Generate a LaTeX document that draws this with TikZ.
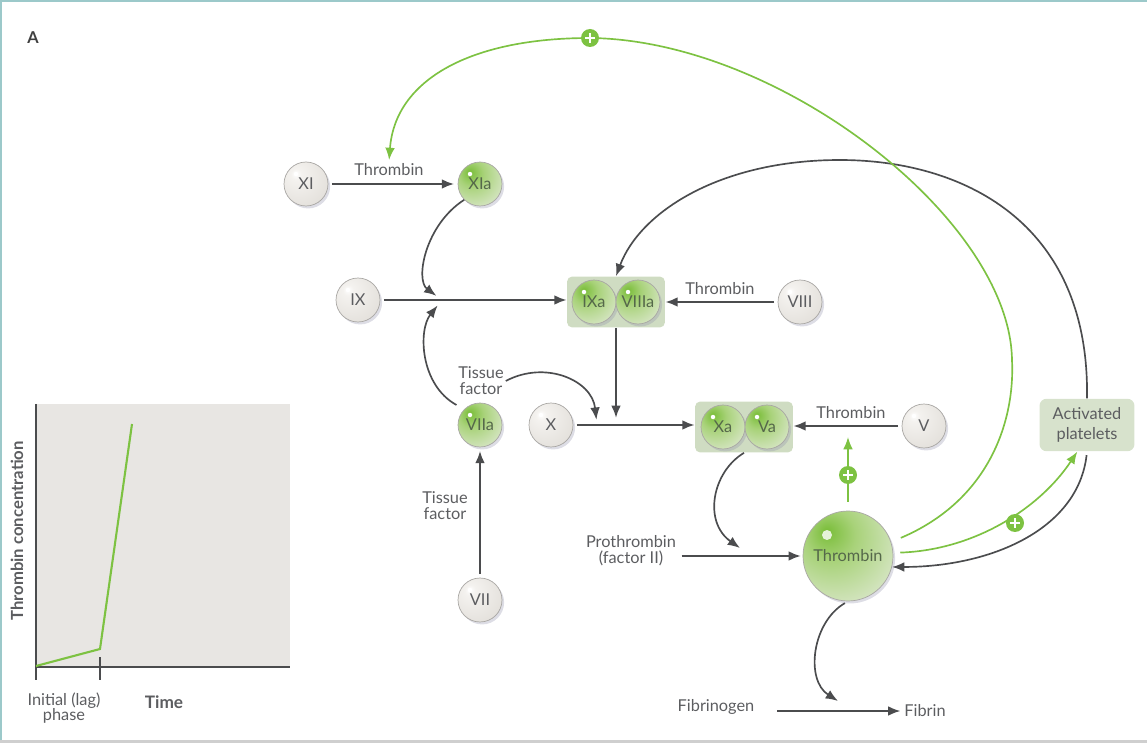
\documentclass[tikz,border=0pt]{standalone}
\usepackage{fontspec}
\setmainfont{Lato}
\usetikzlibrary{positioning,arrows.meta,shadows}

\definecolor{txtgrey}{HTML}{5C5D60}
\definecolor{txtgreen}{HTML}{55684A}
\definecolor{linegrey}{HTML}{4B4C4E}
\definecolor{lgreen}{HTML}{7DC242}
\definecolor{ringgrey}{HTML}{A9A7A4}
\definecolor{shadowc}{HTML}{8E8FA8}
\definecolor{cplxfill}{HTML}{CFDCC2}
\definecolor{pltfill}{HTML}{D7E2CC}
\definecolor{graphfill}{HTML}{E8E6E3}
\definecolor{frameteal}{HTML}{9CC9CA}
\definecolor{framegrey}{HTML}{CFCFCF}
\definecolor{fgA}{HTML}{F4F2EF}
\definecolor{fgB}{HTML}{E4E1DC}
\definecolor{fgC}{HTML}{D2CEC8}
\definecolor{gnA}{HTML}{79BD38}
\definecolor{gnB}{HTML}{A8D279}
\definecolor{gnC}{HTML}{D5E5C2}
\definecolor{gnD}{HTML}{E3E6DB}

\pgfdeclareradialshading{factorgrey}{\pgfpoint{-12bp}{12bp}}{color(0bp)=(white); color(6bp)=(fgA); color(34bp)=(fgB); color(62bp)=(fgC); color(80bp)=(fgC)}
\pgfdeclareradialshading{factorgreen}{\pgfpoint{-12bp}{14bp}}{color(0bp)=(gnA); color(14bp)=(gnB); color(36bp)=(gnC); color(62bp)=(gnD); color(80bp)=(gnD)}

\begin{document}
\begin{tikzpicture}[x=0.02cm, y=-0.02cm,
    every node/.style={font=\fontsize{9.3}{11}\selectfont, text=txtgrey},
    factor/.style={circle, draw=ringgrey, line width=0.4pt, minimum size=0.88cm, inner sep=0pt,
      shading=factorgrey,
      drop shadow={shadow xshift=1.2pt, shadow yshift=-1.4pt, fill=shadowc, opacity=0.3},
      path picture={\fill[white] ([shift={(-0.2cm,0.2cm)}]path picture bounding box.center) circle (0.045cm);}},
    active/.style={factor, shading=factorgreen, text=txtgreen},
    bigthr/.style={active, minimum size=1.8cm,
      path picture={\fill[white, opacity=0.8] ([shift={(-0.42cm,0.42cm)}]path picture bounding box.center) circle (0.1cm);}},
    cplx/.style={rectangle, rounded corners=3pt, fill=cplxfill, minimum width=1.96cm, minimum height=1.02cm},
    pltbox/.style={rectangle, rounded corners=4pt, fill=pltfill, minimum width=1.9cm, minimum height=1.05cm, align=center},
    lbl/.style={align=center, inner sep=1pt},
    plus/.style={circle, fill=lgreen, minimum size=0.36cm, inner sep=0pt,
      path picture={\draw[white, line width=1.4pt] ([xshift=-0.1cm]path picture bounding box.center) -- ([xshift=0.1cm]path picture bounding box.center)
        ([yshift=-0.1cm]path picture bounding box.center) -- ([yshift=0.1cm]path picture bounding box.center);}},
    arr/.style={draw=linegrey, line width=1.15pt, -{Latex[length=7pt,width=5.5pt]}},
    arrc/.style={draw=linegrey, line width=0.95pt, -{Latex[length=7pt,width=5.5pt]}},
    garr/.style={draw=lgreen, line width=0.95pt, -{Latex[length=7pt,width=5.5pt]}}]

\useasboundingbox (0,0) rectangle (1147,743);
% frame
\draw[frameteal, line width=1.2pt] (1,743) -- (1,1) -- (1147,1);
\draw[framegrey, line width=1.2pt] (0,741.5) -- (1147,741.5);
\node[font=\fontsize{9.3}{11}\selectfont\bfseries, text=black!75] (panel) at (33,38) {A};

% thrombin graph
\fill[graphfill] (35,404) rectangle (290,668);
\draw[linegrey, line width=1.2pt] (36,404) -- (36,667) -- (290,667);
\draw[linegrey, line width=1.2pt] (36,657) -- (36,680) (100,657) -- (100,680);
\draw[lgreen, line width=1.2pt] (36,666) -- (100,649) -- (132,424);
\node[rotate=90, font=\fontsize{9.5}{11}\selectfont\bfseries] (ylab) at (17,531) {Thrombin concentration};
\node[lbl] (lagph) at (64,708) {Initial (lag)\\[-2pt]phase};
\node[font=\fontsize{9.8}{11}\selectfont\bfseries] (timelab) at (164,702) {Time};

% complexes
\node[cplx] (cplxA) at (616,302) {};
\node[cplx] (cplxB) at (744,427) {};

% factors
\node[factor] (xi) at (306,184) {XI};
\node[active] (xia) at (480,184) {XIa};
\node[factor] (ix) at (358,300) {IX};
\node[active] (ixa) at (594,302) {IXa};
\node[active] (viiia) at (638,302) {VIIIa};
\node[factor] (viii) at (800,302) {VIII};
\node[active] (viia) at (480,425) {VIIa};
\node[factor] (x) at (551,425) {X};
\node[active] (xa) at (723,427) {Xa};
\node[active] (va) at (767,427) {Va};
\node[factor] (v) at (924,426) {V};
\node[factor] (vii) at (480,600) {VII};
\node[bigthr] (thr) at (848,556) {Thrombin};
\node[pltbox] (plt) at (1087,425) {Activated\\platelets};

% labels
\node[lbl] (thrA) at (389,170) {Thrombin};
\node[lbl] (thrB) at (720,289) {Thrombin};
\node[lbl] (thrC) at (851,413) {Thrombin};
\node[lbl] (tfA) at (481,381) {Tissue\\[-2pt]factor};
\node[lbl] (tfB) at (445,506) {Tissue\\[-2pt]factor};
\node[lbl] (proth) at (631,551) {Prothrombin\\[-2pt](factor II)};
\node[lbl] (fibgen) at (716,707) {Fibrinogen};
\node[lbl] (fibrin) at (925,711) {Fibrin};

\coordinate (jnine) at (442,300);
\coordinate (jten) at (615,425);
\coordinate (thrup) at (848,437);

% straight arrows
\draw[arr, shorten <=2pt, shorten >=2pt] (xi) -- (xia);
\draw[arr, shorten <=2pt] (ix.east) -- (ix.east -| cplxA.west);
\draw[arr, shorten <=2pt] (viii.west) -- (viii.west -| cplxA.east);
\draw[arr, shorten >=4pt] (cplxA.south) -- (cplxA.south |- jten);
\draw[arr, shorten <=2pt] (x.east) -- (x.east -| cplxB.west);
\draw[arr, shorten <=2pt] (v.west) -- (v.west -| cplxB.east);
\draw[arr, shorten <=2pt, shorten >=2pt] (vii) -- (viia);
\draw[arr, shorten <=2pt, shorten >=1pt] (proth.east |- thr) -- (thr.west);
\draw[arr, shorten <=12pt, shorten >=1pt] (fibgen.east |- fibrin) -- (fibrin.west);

% curved arrows
\draw[arrc, shorten >=4pt] (xia.225) .. controls (425,225) and (415,280) .. (jnine);
\draw[arrc, shorten <=5pt, shorten >=4pt] (viia.135) .. controls (420,385) and (418,330) .. (jnine);
\draw[arrc, shorten >=3pt] (tfA.east) .. controls (545,360) and (592,380) .. (597,425);
\draw[arrc] (cplxB.south) .. controls (712,472) and (703,522) .. (740,548);
\draw[arrc, shorten <=2pt] (thr.south) .. controls (812,622) and (805,680) .. (838,701);

% platelet loops
\draw[arrc] (plt.north) .. controls (1090,220) and (960,160) .. (840,160)
  .. controls (720,160) and (640,212) .. (cplxA.north);
\draw[arrc, shorten <=2pt] (plt.south) .. controls (1078,530) and (990,567) .. (thr.-14);

% thrombin feedback
\draw[garr, shorten <=5pt] (thr.north) -- (thrup);
\node[plus] (plusB) at (848,475) {};
\draw[garr, shorten <=4pt] (thr.4) .. controls (975,550) and (1040,508) .. (plt.250);
\node[plus] (plusC) at (1015,523) {};
\draw[garr, shorten <=6pt, shorten >=1pt] (thr.18) .. controls (990,500) and (1015,420) .. (1012,360)
  .. controls (1010,220) and (780,40) .. (590,38)
  .. controls (470,38) and (395,80) .. (thrA.north);
\node[plus] (plusA) at (590,38) {};
\end{tikzpicture}
\end{document}
